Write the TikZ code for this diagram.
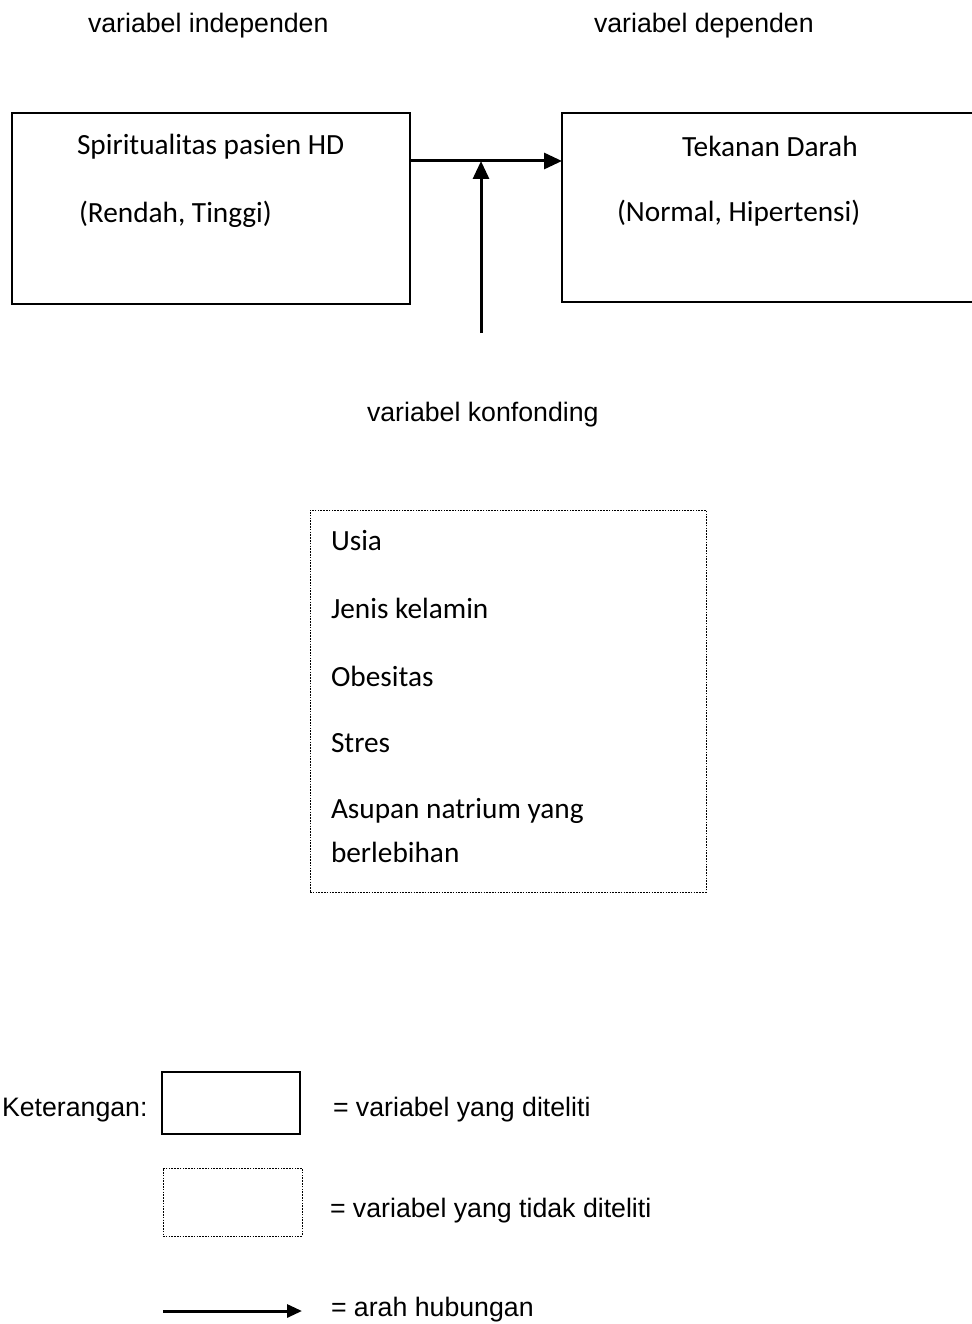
\documentclass[tikz,border=0pt]{standalone}
\usepackage{fontspec}
\setmainfont{Liberation Sans}
\newfontfamily\calibri{Carlito}
\usetikzlibrary{arrows.meta}

\begin{document}
\begin{tikzpicture}[
		x=1pt, y=-1pt,
		every node/.style={inner sep=0pt, outer sep=0pt},
		varbox/.style={draw, line width=2.8pt},
		dotbox/.style={draw, line width=1pt, dash pattern=on 1.6pt off 1.2pt},
		legbox/.style={draw, line width=1.1pt},
		arial/.style={anchor=west, font=\fontsize{26.7}{32}\selectfont},
		cal/.style={anchor=west, font=\calibri\fontsize{29.3}{36}\selectfont},
		link/.style={line width=3pt, -{Triangle[length=18pt, width=16pt]}}
	]
  \useasboundingbox (0,0) rectangle (971,1324);
  % header labels
  \node (lindep) [arial] at (88, 26) {variabel independen};
  \node (ldep) [arial] at (594, 26) {variabel dependen};
  % main boxes
  \node (indep) [varbox, minimum width=398pt, minimum height=191pt] at (211, 208.5) {};
  \node (dep) [varbox, line width=2.5pt, minimum width=418pt, minimum height=189pt] at (771, 207.5) {};
  \node (indep1) [cal] at (77, 147) {Spiritualitas pasien HD};
  \node (indep2) [cal] at (79, 214) {(Rendah, Tinggi)};
  \node (dep1) [cal] at (682, 146) {Tekanan Darah};
  \node (dep2) [cal] at (617, 213) {(Normal, Hipertensi)};
  \coordinate (mid) at (481, 161);
  \coordinate (konf) at (481, 333);
  \draw [link] (indep.east |- mid) -- (dep.west |- mid);
  \draw [link] (konf) -- (mid);
  % confounding
  \node (lkonf) [arial] at (367, 415) {variabel konfonding};
  \node (kbox) [dotbox, minimum width=396pt, minimum height=382pt] at (508, 701) {};
  \node (k1) [cal] at (331, 541) {Usia};
  \node (k2) [cal] at (331, 608) {Jenis kelamin};
  \node (k3) [cal] at (331, 676) {Obesitas};
  \node (k4) [cal] at (331, 743) {Stres};
  \node (k5) [cal] at (331, 811) {Asupan natrium yang};
  \node (k6) [cal] at (331, 852) {berlebihan};
  % legend
  \node (ket) [arial] at (2, 1110) {Keterangan:};
  \node (leg1) [legbox, minimum width=138pt, minimum height=62pt] at (231, 1103) {};
  \node (leg1t) [arial] at (333, 1110) {= variabel yang diteliti};
  \node (leg2) [dotbox, minimum width=139pt, minimum height=68pt] at (232.5, 1202) {};
  \node (leg2t) [arial] at (330, 1211) {= variabel yang tidak diteliti};
  \coordinate (a0) at (163, 1311);
  \coordinate (a1) at (302, 1311);
  \draw [link, -{Triangle[length=15pt, width=13pt]}] (a0) -- (a1);
  \node (leg3t) [arial] at (331, 1310) {= arah hubungan};
\end{tikzpicture}
\end{document}
